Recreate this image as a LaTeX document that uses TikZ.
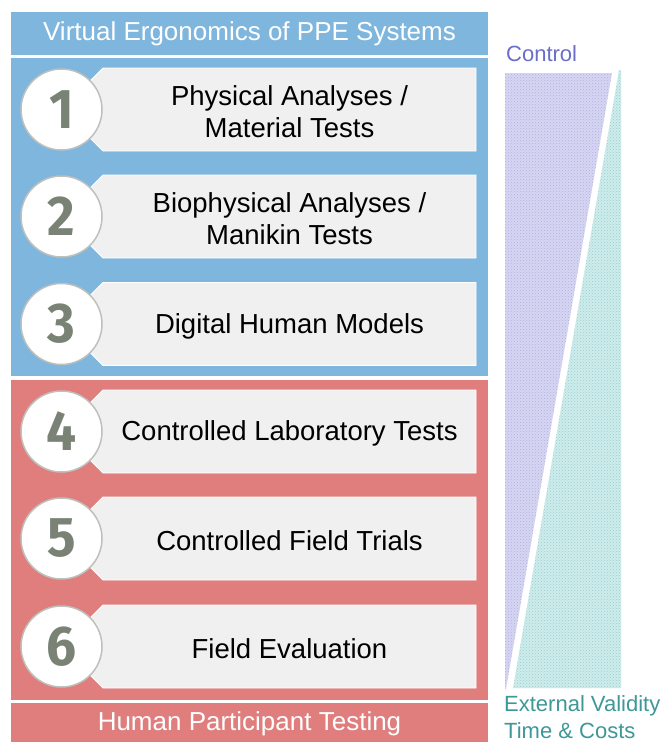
\documentclass[tikz,border=0pt]{standalone}
\usepackage{fontspec}
\setmainfont{Liberation Sans}
\newfontfamily\numfont{Fira Sans}
\usetikzlibrary{patterns}
\definecolor{panelblue}{RGB}{127,182,222}
\definecolor{panelred}{RGB}{224,126,126}
\definecolor{boxgray}{RGB}{240,240,240}
\definecolor{numgray}{RGB}{122,130,118}
\definecolor{ringgray}{RGB}{190,192,188}
\definecolor{ctrlpurple}{RGB}{108,108,204}
\definecolor{lightpurple}{RGB}{214,214,242}
\definecolor{valteal}{RGB}{62,152,152}
\definecolor{lightteal}{RGB}{206,236,236}
\begin{document}
\begin{tikzpicture}[x=1pt,y=-1pt,
  bartext/.style={text=white, font=\fontsize{26}{30}\selectfont},
  steptext/.style={font=\fontsize{27.5}{31.5}\selectfont, align=center, text=black},
  numcircle/.style={circle, draw=ringgray, line width=1.5pt, fill=white, minimum size=81pt, inner sep=0pt,
    font=\numfont\bfseries\fontsize{56}{56}\selectfont, text=numgray},
  tagbox/.style={fill=boxgray, draw=white, line width=0.8pt},
  sidetext/.style={anchor=west, font=\fontsize{22}{26}\selectfont, inner sep=0pt}
]
\useasboundingbox (0,0) rectangle (668,742);
\fill[white] (0,0) rectangle (668,742);

% panels and bars
\fill[panelblue] (11,12) rectangle (488,55);
\node[bartext] (title) at (249.5,34) {Virtual Ergonomics of PPE Systems};
\fill[panelblue] (11,58) rectangle (488,376);
\fill[panelred] (11,380) rectangle (488,700);
\fill[panelred] (11,703) rectangle (488,742);
\node[bartext] (human) at (249.5,724) {Human Participant Testing};

% steps
\foreach \i/\y/\txt in {
  1/109.5/{Physical Analyses /\\Material Tests},
  2/216.5/{Biophysical Analyses /\\Manikin Tests},
  3/324/{Digital Human Models},
  4/431.5/{Controlled Laboratory Tests},
  5/538.5/{Controlled Field Trials},
  6/646.5/{Field Evaluation}} {
  \draw[tagbox] (476,\y-41.5) -- (476,\y+41.5) -- (103,\y+41.5) -- (61.5,\y) -- (103,\y-41.5) -- cycle;
  \node[steptext] (box\i) at (289.5,\y+2) {\txt};
  \node[numcircle] (num\i) at (61.5,\y) {\raisebox{-1pt}{\scalebox{0.95}[1]{\i}}};
}

% control / validity wedges
\fill[lightpurple] (505,73) -- (612,73) -- (506,689) -- (505,689) -- cycle;
\fill[pattern=crosshatch dots, pattern color=ctrlpurple, opacity=0.35] (505,73) -- (612,73) -- (506,689) -- (505,689) -- cycle;
\fill[lightteal] (619,70) -- (621,70) -- (621,688) -- (513,688) -- cycle;
\fill[pattern=crosshatch dots, pattern color=valteal, opacity=0.35] (619,70) -- (621,70) -- (621,688) -- (513,688) -- cycle;

\node[sidetext, text=ctrlpurple] (control) at (506,54) {Control};
\node[sidetext, text=valteal] (valid) at (504,706) {External Validity};
\node[sidetext, text=valteal] (cost) at (504,731) {Time \& Costs};
\end{tikzpicture}
\end{document}
